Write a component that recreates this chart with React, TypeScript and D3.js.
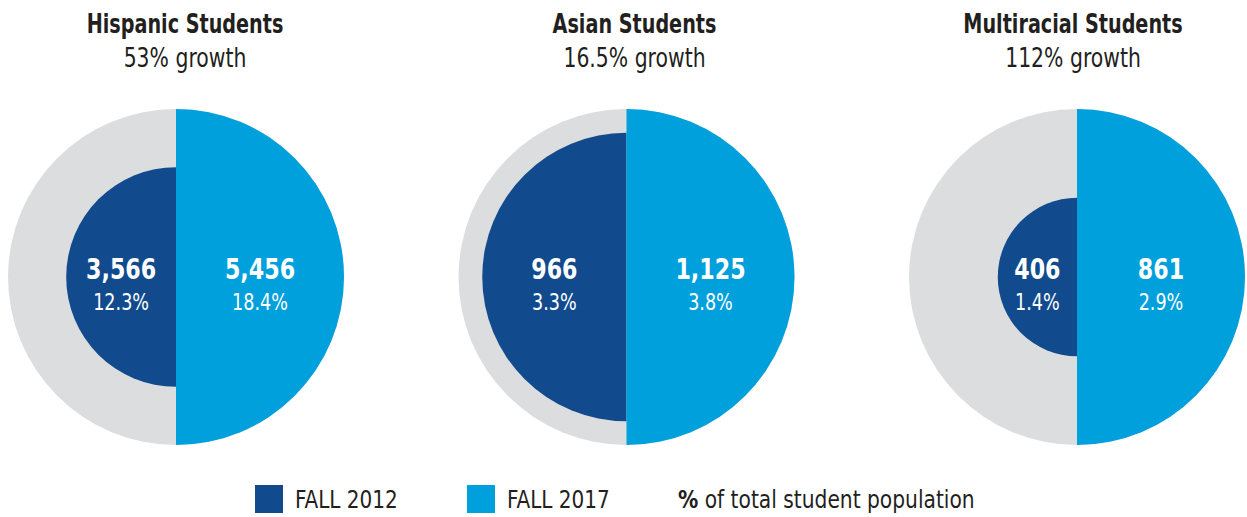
import React from "react";
import * as d3 from "d3";

const groups = ["Hispanic Students", "Asian Students", "Multiracial Students"];
const growth = ["53% growth", "16.5% growth", "112% growth"];
const fall2012 = [3566, 966, 406];
const fall2017 = [5456, 1125, 861];
const pct2012 = ["12.3%", "3.3%", "1.4%"];
const pct2017 = ["18.4%", "3.8%", "2.9%"];
const legendLabels = ["FALL 2012", "FALL 2017"];

const W = 1247, H = 517;
const FONT = "'DejaVu Sans Condensed', 'DejaVu Sans', sans-serif";
const DARK = "#114b8e", LIGHT = "#00a0dc", GRAY = "#dcdddf", TXT = "#231f20";
const TITLE_DX = [9, 8, -4];

function T({ x, y, sx, children, ...rest }: any) {
  return (
    <text transform={`translate(${x},${y}) scale(${sx},1)`} {...rest}>{children}</text>
  );
}

export default function App() {
  const x = d3.scalePoint<string>().domain(groups).range([176, 1077]);
  const cy = 277;
  const R = 168;
  const fmt = d3.format(",");
  return (
    <svg width={W} height={H} style={{ position: "absolute", left: 0, top: 0 }} fontFamily={FONT}>
      {groups.map((g, i) => {
        const cx = x(g)!;
        const rScale = d3.scaleLinear().domain([0, fall2017[i]]).range([0, R]);
        const rL = rScale(fall2012[i]);
        const right = d3.arc()({ innerRadius: 0, outerRadius: R, startAngle: 0, endAngle: Math.PI }) as string;
        const left = d3.arc()({ innerRadius: 0, outerRadius: rL, startAngle: Math.PI, endAngle: 2 * Math.PI }) as string;
        return (
          <g key={g}>
            <T x={cx + TITLE_DX[i]} y={33} sx={0.79} textAnchor="middle" fontWeight="bold" fontSize={27} fill={TXT}>{g}</T>
            <T x={cx + TITLE_DX[i]} y={67} sx={0.84} textAnchor="middle" fontSize={27} fill={TXT}>{growth[i]}</T>
            <g transform={`translate(${cx},${cy})`}>
              <circle r={R} fill={GRAY} />
              <path d={left} fill={DARK} />
              <path d={right} fill={LIGHT} />
              <T x={-rL / 2} y={2} sx={0.85} textAnchor="middle" fontWeight="bold" fontSize={29} fill="#fff">{fmt(fall2012[i])}</T>
              <T x={-rL / 2} y={33} sx={0.85} textAnchor="middle" fontSize={23} fill="#fff">{pct2012[i]}</T>
              <T x={R / 2} y={2} sx={0.85} textAnchor="middle" fontWeight="bold" fontSize={29} fill="#fff">{fmt(fall2017[i])}</T>
              <T x={R / 2} y={33} sx={0.85} textAnchor="middle" fontSize={23} fill="#fff">{pct2017[i]}</T>
            </g>
          </g>
        );
      })}
      <g>
        <rect x={255} y={485} width={28} height={28} fill={DARK} />
        <T x={295} y={508} sx={0.89} fontSize={25} fill={TXT}>{legendLabels[0]}</T>
        <rect x={467} y={485} width={28} height={28} fill={LIGHT} />
        <T x={507} y={508} sx={0.89} fontSize={25} fill={TXT}>{legendLabels[1]}</T>
        <T x={678} y={508} sx={0.9} fontSize={25} fill={TXT}><tspan fontWeight="bold">%</tspan> of total student population</T>
      </g>
    </svg>
  );
}
